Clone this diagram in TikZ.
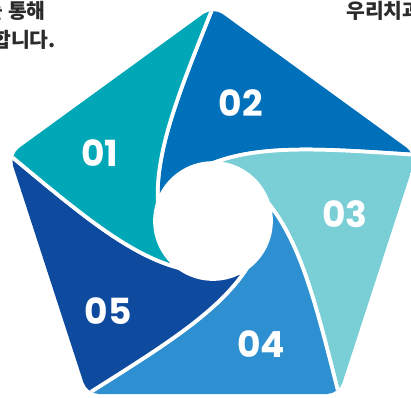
\documentclass[tikz,border=0pt]{standalone}
\usepackage{fontspec}
\newfontfamily\kr{Noto Sans CJK KR}
\newfontfamily\pop{Poppins}
\usetikzlibrary{calc}
\definecolor{cA}{HTML}{00A8B7}
\definecolor{cB}{HTML}{0070BA}
\definecolor{cC}{HTML}{7ACFD6}
\definecolor{cD}{HTML}{2E90D0}
\definecolor{cE}{HTML}{0E4A9E}
\definecolor{txt}{HTML}{2B2B2B}
\begin{document}
\begin{tikzpicture}[x=0.75pt,y=0.75pt,
  blade/.style={line width=2.8pt, draw=white, line join=round},
  lbl/.style={text=white, font=\pop\bfseries\fontsize{27}{27}\selectfont, inner sep=0pt},
  kor/.style={text=txt, font=\kr\bfseries\fontsize{15.3}{17}\selectfont, inner sep=0pt}]
\useasboundingbox (0,0) rectangle (411,397);
\begin{scope}
\clip[rounded corners=9] (213,390) -- (416.5,242.1) -- (338.8,3) -- (87.2,3) -- (9.5,242.1) -- cycle;
\foreach \k/\col in {0/cB,1/cC,2/cD,3/cE,4/cA}{
  \begin{scope}[rotate around={-72*\k:(213,176)}]
    \filldraw[blade, fill=\col] (157.8,193.9) arc[start angle=162, end angle=90, radius=58]
      .. controls (262.6,253.1) and (327.4,247.9) .. (416.5,242.1)
      -- (477.6,261.9) -- (213,454.2) -- (213,390)
      .. controls (180,307) and (155,247) .. (157.8,193.9) -- cycle;
  \end{scope}
}
\end{scope}
\node[lbl] (n01) at (100,244) {01};
\node[lbl] (n02) at (241,294) {02};
\node[lbl] (n03) at (345,183) {03};
\node[lbl] (n04) at (261,53) {04};
\node[lbl] (n05) at (108,86) {05};
\node[kor, anchor=base east] (t1) at (46,378) {를 통해};
\node[kor, anchor=base east] (t2) at (56,349) {합니다.};
\node[kor, anchor=base west] (t3) at (346,378) {우리치과};
\end{tikzpicture}
\end{document}
